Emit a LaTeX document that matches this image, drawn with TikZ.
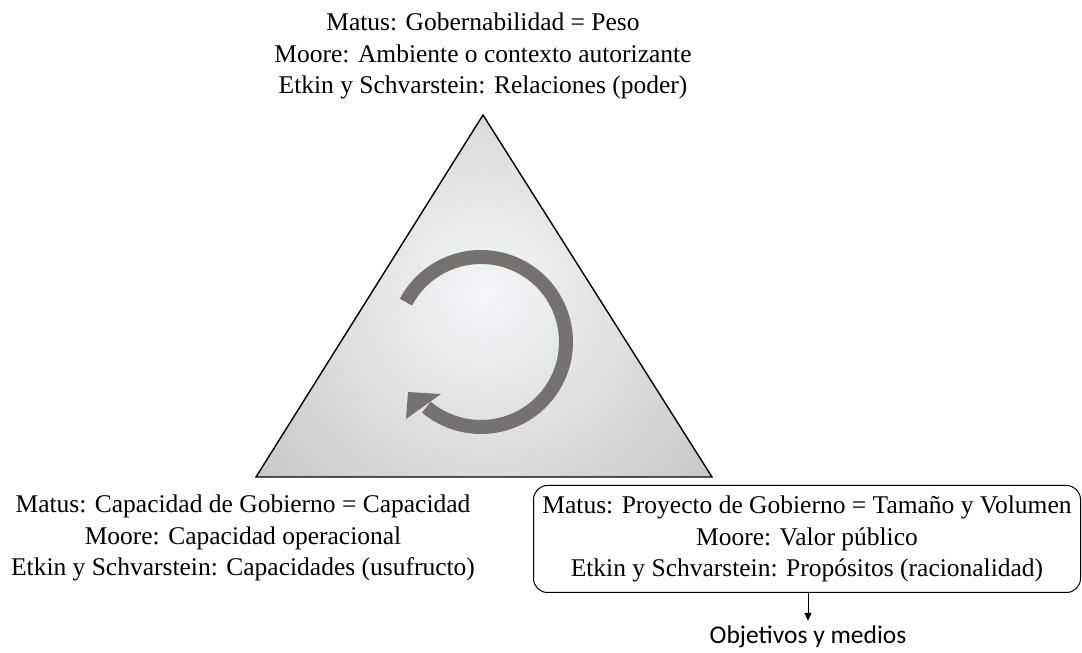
\documentclass[tikz,border=0pt]{standalone}
\usepackage{fontspec}
\setmainfont{Liberation Serif}
\newfontfamily\calfont{Carlito}
\usetikzlibrary{arrows.meta}
\definecolor{cyclegray}{HTML}{767171}
\definecolor{shadein}{HTML}{F5F6F9}
\definecolor{shadeout}{HTML}{9E9C9C}
\tikzset{
  label3/.style={align=center, font=\fontsize{25.5}{31.5}\selectfont, inner sep=0pt},
  roundbox/.style={draw, line width=1pt, rounded corners=14pt, minimum width=547pt,
    minimum height=107pt, align=center, font=\fontsize{25.5}{31.5}\selectfont},
  sanslabel/.style={font=\calfont\fontsize{25.5}{30}\selectfont, inner sep=3pt},
  thinarrow/.style={line width=0.8pt, -{Triangle[length=8pt,width=7pt]}},
}
\begin{document}
\begin{tikzpicture}[x=1pt,y=1pt]
\useasboundingbox (0,0) rectangle (1082,653);

% shaded triangle
\coordinate (apex) at (483,538);
\coordinate (bl) at (256,176);
\coordinate (br) at (712,176);
\begin{scope}
  \clip (apex) -- (bl) -- (br) -- cycle;
  \shade[inner color=shadein, outer color=shadeout] (485,360) circle (560);
\end{scope}
\draw[line width=1.4pt, line join=miter] (apex) -- (bl) -- (br) -- cycle;

% circular cycle arrow
\draw[cyclegray, line width=14pt] (481,311) ++(152:85) arc[start angle=152, end angle=-130, radius=85];
\fill[cyclegray] (408,261) -- (406,234) -- (441,259) -- cycle;

% labels
\node[label3] (top) at (483,597) {Matus: Gobernabilidad = Peso\\Moore: Ambiente o contexto autorizante\\Etkin y Schvarstein: Relaciones (poder)};
\node[label3] (left) at (243,115) {Matus: Capacidad de Gobierno = Capacidad\\Moore: Capacidad operacional\\Etkin y Schvarstein: Capacidades (usufructo)};
\node[roundbox] (right) at (807,114) {Matus: Proyecto de Gobierno = Tamaño y Volumen\\Moore: Valor público\\Etkin y Schvarstein: Propósitos (racionalidad)};
\node[sanslabel] (obj) at (808,16) {Objetivos y medios};
\draw[thinarrow, shorten >=2pt] (right.south -| obj) -- (obj.north);
\end{tikzpicture}
\end{document}
